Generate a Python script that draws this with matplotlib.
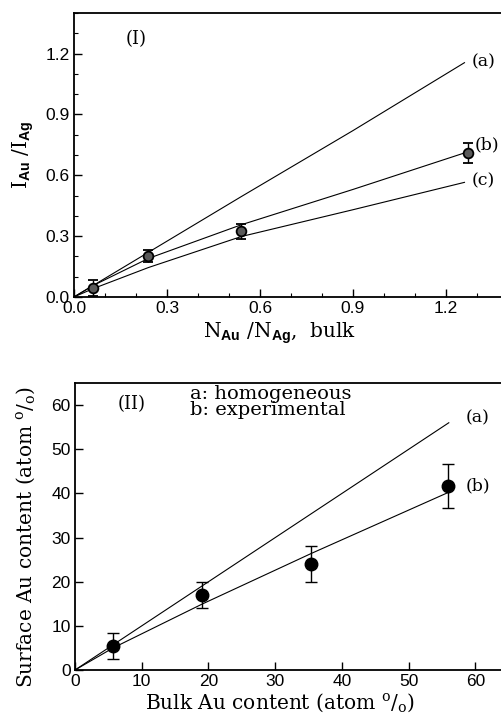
import matplotlib
matplotlib.use("Agg")
import matplotlib.pyplot as plt
from matplotlib.ticker import MultipleLocator

plt.rcParams["mathtext.fontset"] = "custom"
plt.rcParams["mathtext.rm"] = "DejaVu Serif"
plt.rcParams["mathtext.bf"] = "Liberation Sans:bold"

# ---- Panel I: intensity ratio vs bulk composition ----
ratio_x = [0.06, 0.24, 0.54, 1.27]
ratio_y = [0.045, 0.203, 0.325, 0.71]
ratio_err = [0.04, 0.03, 0.037, 0.05]

curve_x = [0.0, 0.06, 0.24, 0.54, 0.90, 1.26]
curve_a = [0.0, 0.055, 0.22, 0.495, 0.82, 1.155]
curve_b = [0.0, 0.055, 0.19, 0.356, 0.53, 0.71]
curve_c = [0.0, 0.040, 0.145, 0.298, 0.43, 0.565]

# ---- Panel II: surface vs bulk Au content ----
bulk_x = [5.7, 19.0, 35.4, 55.9]
surf_y = [5.45, 17.0, 24.0, 41.6]
surf_err = [3.0, 2.9, 4.0, 5.0]

homog_x = [0.0, 56.0]
homog_y = [0.0, 56.0]
exp_x = [0.0, 5.7, 19.0, 35.4, 55.9]
exp_y = [0.0, 5.0, 14.9, 26.4, 40.2]

I_ticks = [0.0, 0.3, 0.6, 0.9, 1.2]
II_ticks = [0, 10, 20, 30, 40, 50, 60]

SANS = "Liberation Sans"
SERIF = "DejaVu Serif"

fig = plt.figure(figsize=(5.01, 7.13), dpi=100)

def style_axes(ax):
    for s in ("left", "bottom", "top"):
        ax.spines[s].set_linewidth(1.3)
    ax.spines["right"].set_visible(False)
    ax.tick_params(which="major", direction="in", length=6, width=1.0,
                   labelsize=12.5, pad=3)
    ax.tick_params(which="minor", direction="in", length=3, width=0.8)
    for lab in ax.get_xticklabels() + ax.get_yticklabels():
        lab.set_fontfamily(SANS)

# Panel I
ax1 = fig.add_axes([0.1477, 0.5835, 0.866, 0.3983])
ax1.plot(curve_x, curve_a, color="black", lw=0.8)
ax1.plot(curve_x, curve_b, color="black", lw=0.8)
ax1.plot(curve_x, curve_c, color="black", lw=0.8)
ax1.errorbar(ratio_x, ratio_y, yerr=ratio_err, fmt="o", ms=7,
             mfc="#5a5a5a", mec="black", mew=1.3, ecolor="black",
             elinewidth=1.0, capsize=3.5, capthick=1.0)
ax1.set_xlim(0, 1.4)
ax1.set_ylim(0, 1.4)
ax1.set_xticks(I_ticks)
ax1.set_yticks(I_ticks)
ax1.xaxis.set_minor_locator(MultipleLocator(0.1))
ax1.yaxis.set_minor_locator(MultipleLocator(0.1))
ax1.set_xticklabels([f"{t:.1f}" for t in I_ticks])
ax1.set_yticklabels([f"{t:.1f}" for t in I_ticks])
style_axes(ax1)
ax1.text(0.20, 1.27, "(I)", fontsize=13, family=SERIF, ha="center", va="center")
ax1.text(1.283, 1.16, "(a)", fontsize=12.5, family=SERIF, ha="left", va="center")
ax1.text(1.293, 0.75, "(b)", fontsize=12.5, family=SERIF, ha="left", va="center")
ax1.text(1.283, 0.57, "(c)", fontsize=12.5, family=SERIF, ha="left", va="center")
fig.text(280 / 501, 1 - 333 / 713,
         r"N$_{\mathbf{Au}}$ /N$_{\mathbf{Ag}}$,  bulk",
         fontsize=14.5, family=SERIF, ha="center", va="center")
fig.text(23 / 501, 1 - 155 / 713,
         r"I$_{\mathbf{Au}}$ /I$_{\mathbf{Ag}}$",
         fontsize=14.5, family=SERIF, ha="center", va="center", rotation=90)

# Panel II
ax2 = fig.add_axes([0.1497, 0.0603, 0.866, 0.4025])
ax2.plot(homog_x, homog_y, color="black", lw=0.8)
ax2.plot(exp_x, exp_y, color="black", lw=0.8)
ax2.errorbar(bulk_x, surf_y, yerr=surf_err, fmt="o", ms=9,
             mfc="black", mec="black", ecolor="black",
             elinewidth=1.0, capsize=4, capthick=1.0)
ax2.set_xlim(0, 65)
ax2.set_ylim(0, 65)
ax2.set_xticks(II_ticks)
ax2.set_yticks(II_ticks)
style_axes(ax2)
ax2.text(8.5, 60.3, "(II)", fontsize=13, family=SERIF, ha="center", va="center")
ax2.text(17.2, 60.6, "a: homogeneous\nb: experimental", fontsize=14,
         family=SERIF, ha="left", va="center", linespacing=0.86)
ax2.text(58.5, 57.2, "(a)", fontsize=12.5, family=SERIF, ha="left", va="center")
ax2.text(58.5, 41.8, "(b)", fontsize=12.5, family=SERIF, ha="left", va="center")
fig.text(280 / 501, 1 - 703 / 713,
         r"Bulk Au content (atom $^{\rm o}/_{\rm o}$)",
         fontsize=14.5, family=SERIF, ha="center", va="center")
fig.text(26 / 501, 1 - 537 / 713,
         r"Surface Au content (atom $^{\rm o}/_{\rm o}$)",
         fontsize=14.5, family=SERIF, ha="center", va="center", rotation=90)

fig.savefig("out.png", dpi=100)
